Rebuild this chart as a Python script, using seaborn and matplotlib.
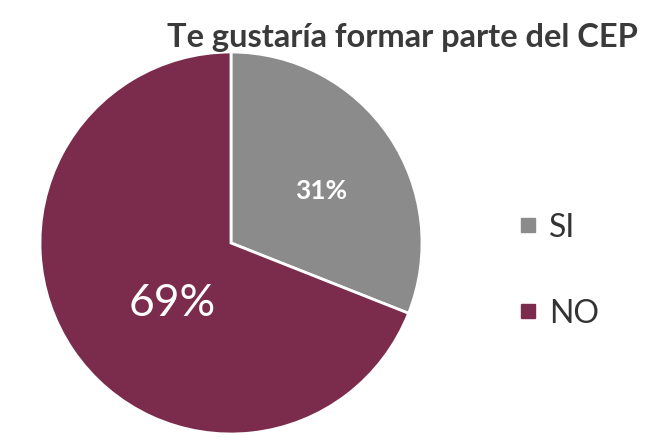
import matplotlib
matplotlib.use("Agg")
import matplotlib.pyplot as plt
import seaborn as sns
from matplotlib.lines import Line2D

# Data
labels = ["SI", "NO"]
values = [31, 69]
title = "Te gustaría formar parte del CEP"

sns.set_theme(style="white")
plt.rcParams['font.family'] = ['Lato', 'DejaVu Sans']

colors = ["#8b8b8b", "#7b2c4c"]

fig = plt.figure(figsize=(6.46, 4.39), dpi=100)
fig.patch.set_facecolor("white")

# pie axes: centre ~ (232, 244) px, radius ~ 191 px
W, H = 646, 439
cx, cy, r = 231, 244, 191
ax = fig.add_axes([(cx - r) / W, (H - cy - r) / H, 2 * r / W, 2 * r / H])

wedges, _ = ax.pie(values, colors=colors, startangle=90, counterclock=False,
                   wedgeprops=dict(edgecolor="white", linewidth=2))
ax.set_xlim(-1, 1)
ax.set_ylim(-1, 1)
ax.set_aspect("equal")
ax.axis("off")

# percentage labels
ax.text(0.47, 0.28, f"{values[0]}%", color="white", fontsize=19,
        fontweight="bold", ha="center", va="center")
ax.text(-0.31, -0.31, f"{values[1]}%", color="white", fontsize=32,
        ha="center", va="center")

fig.text(402 / W, 1 - 38 / H, title, fontsize=23.5, fontweight="bold",
         color="#3a3a3a", ha="center", va="center")

handles = [Line2D([], [], marker="s", linestyle="none", markersize=10,
                  markerfacecolor=c, markeredgecolor=c) for c in colors]
fig.legend(handles, labels, loc="center left",
           bbox_to_anchor=(490 / W, 1 - 271 / H), frameon=False,
           fontsize=23, labelspacing=1.75, handlelength=0.6, handletextpad=0.35,
           labelcolor="#333333")

fig.savefig("out.png", dpi=100)
